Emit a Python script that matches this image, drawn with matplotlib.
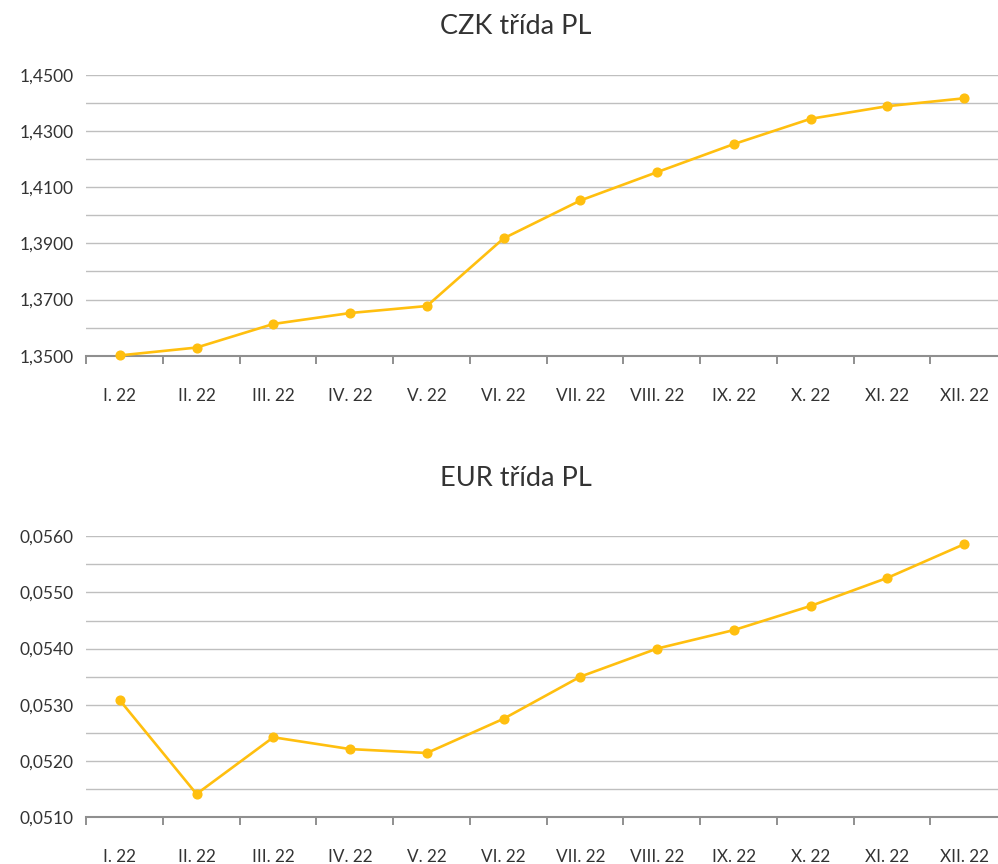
import numpy as np
from matplotlib import pyplot as plt
from matplotlib.ticker import FuncFormatter, FixedLocator

months = ["I. 22", "II. 22", "III. 22", "IV. 22", "V. 22", "VI. 22",
          "VII. 22", "VIII. 22", "IX. 22", "X. 22", "XI. 22", "XII. 22"]

czk_values = [1.3501, 1.3529, 1.3613, 1.3652, 1.3677, 1.3918,
              1.4053, 1.4154, 1.4254, 1.4344, 1.4389, 1.4417]

eur_values = [0.05308, 0.05141, 0.05242, 0.05221, 0.05214, 0.05275,
              0.05350, 0.05400, 0.05433, 0.05476, 0.05526, 0.05586]

plt.rcParams["font.family"] = ["Lato", "DejaVu Sans"]

LINE_COLOR = "#FFBF0F"
GRID_COLOR = "#BFBFBF"
AXIS_COLOR = "#8F8F8F"
TEXT_COLOR = "#333333"

fig = plt.figure(figsize=(9.98, 8.64), dpi=100)


def comma_fmt(v, pos):
    return f"{v:.4f}".replace(".", ",")


def draw_panel(rect, values, ylim, major, minor, title, title_y):
    ax = fig.add_axes(rect)
    x = np.arange(len(values))
    ax.plot(x, values, color=LINE_COLOR, lw=1.9, marker="o", ms=6.3,
            solid_capstyle="round", zorder=3, clip_on=False)

    ax.set_xlim(-0.44, 11.44)
    ax.set_ylim(*ylim)

    lo, hi = ylim
    ax.yaxis.set_major_locator(FixedLocator(np.linspace(lo, hi, int(round((hi - lo) / major)) + 1)))
    ax.yaxis.set_minor_locator(FixedLocator(np.linspace(lo, hi, int(round((hi - lo) / minor)) + 1)))
    ax.yaxis.set_major_formatter(FuncFormatter(comma_fmt))
    ax.grid(axis="y", which="both", color=GRID_COLOR, lw=1.0)
    ax.set_axisbelow(True)

    ax.set_xticks(x)
    ax.set_xticklabels(months)
    ax.xaxis.set_minor_locator(FixedLocator(np.arange(13) - 0.44))

    ax.tick_params(axis="y", which="both", length=0, pad=9,
                   labelsize=12.5, labelcolor=TEXT_COLOR)
    ax.tick_params(axis="x", which="major", length=0, pad=23,
                   labelsize=12.3, labelcolor=TEXT_COLOR)
    ax.tick_params(axis="x", which="minor", length=6, width=1.4,
                   color=AXIS_COLOR)

    for side in ["top", "right", "left"]:
        ax.spines[side].set_visible(False)
    ax.spines["bottom"].set_color(AXIS_COLOR)
    ax.spines["bottom"].set_linewidth(1.5)

    fig.text(516 / 998, title_y, title, ha="center", va="center",
             fontsize=19.5, color=TEXT_COLOR)
    return ax


draw_panel([86 / 998, 1 - 355.7 / 864, 912 / 998, 280.7 / 864],
           czk_values, (1.35, 1.45), 0.02, 0.01, "CZK třída PL", 1 - 26 / 864)
draw_panel([86 / 998, 1 - 817 / 864, 912 / 998, 280.7 / 864],
           eur_values, (0.051, 0.056), 0.001, 0.0005, "EUR třída PL", 1 - 479 / 864)

plt.savefig("out.png", dpi=100)
